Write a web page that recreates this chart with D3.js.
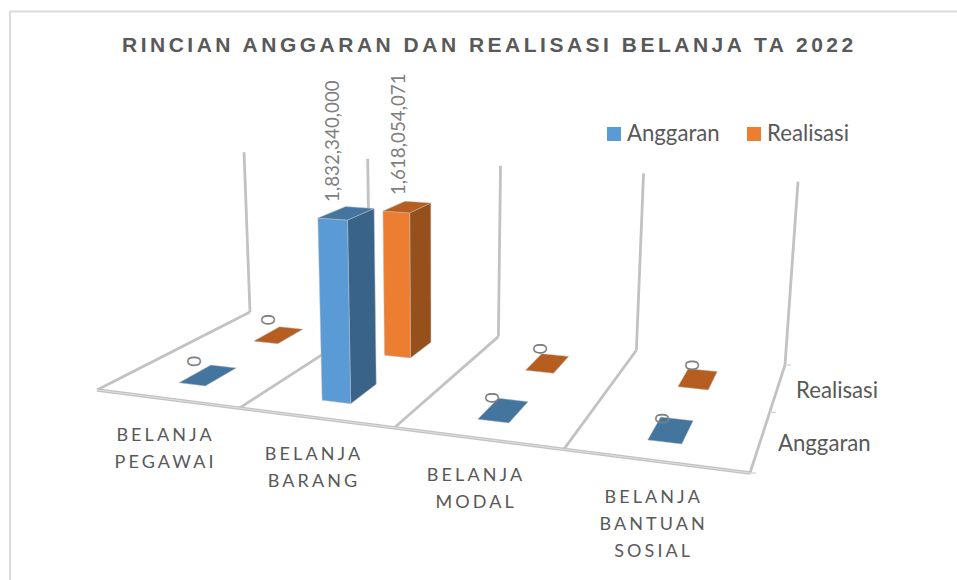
<!DOCTYPE html>
<html>
<head>
<meta charset="utf-8">
<script src="https://cdn.jsdelivr.net/npm/d3@7"></script>
<style>
html,body{margin:0;padding:0;background:#fff;overflow:hidden}
</style>
</head>
<body>
<svg id="chart" width="957" height="580"></svg>
<script>
//data
const chartTitle = "RINCIAN ANGGARAN DAN REALISASI BELANJA TA 2022"
const categories = ["BELANJA PEGAWAI", "BELANJA BARANG", "BELANJA MODAL", "BELANJA BANTUAN SOSIAL"]
const seriesNames = ["Anggaran", "Realisasi"]
const anggaran = [0, 1832340000, 0, 0]
const realisasi = [0, 1618054071, 0, 0]
const seriesValues = [anggaran, realisasi]
const axisMax = 2000000000

//colours: front, side, top of each series
const colors = [
    { front: "#5b9bd5", side: "#3a6389", top: "#44759f" },
    { front: "#ed7d31", side: "#96501c", top: "#b65e20" }
]
const gridColor = "#c2c2c2"
const textColor = "#595959"
const labelColor = "#7f7f7f"

let svg = d3.select("#chart")
const W = 957, H = 580

//floor corners on screen: front-left, front-right, back-right, back-left
const floor = [[97, 390], [750, 473], [785, 365], [250, 312]]
//point where the vertical edges of the 3D box meet
const vanish = [436, 5291]

//unit square -> floor quad (perspective)
let dx1 = floor[1][0] - floor[2][0], dx2 = floor[3][0] - floor[2][0], sx = floor[0][0] - floor[1][0] + floor[2][0] - floor[3][0]
let dy1 = floor[1][1] - floor[2][1], dy2 = floor[3][1] - floor[2][1], sy = floor[0][1] - floor[1][1] + floor[2][1] - floor[3][1]
let den = dx1 * dy2 - dx2 * dy1
let g = (sx * dy2 - dx2 * sy) / den
let h = (dx1 * sy - sx * dy1) / den
let a = floor[1][0] - floor[0][0] + g * floor[1][0]
let b = floor[3][0] - floor[0][0] + h * floor[3][0]
let c = floor[0][0]
let d = floor[1][1] - floor[0][1] + g * floor[1][1]
let e = floor[3][1] - floor[0][1] + h * floor[3][1]
let f = floor[0][1]

let uScale = d3.scaleLinear().domain([0, categories.length]).range([0, 1])
let vScale = d3.scaleLinear().domain([0, seriesNames.length]).range([0, 1])
let hScale = d3.scaleLinear().domain([0, axisMax]).range([0, -0.0383])

//category position, series position, value -> screen
function project(cat, ser, val) {
    let u = uScale(cat), v = vScale(ser), t = hScale(val)
    let w = g * u + h * v + 1 + t
    return [(a * u + b * v + c + t * vanish[0]) / w, (d * u + e * v + f + t * vanish[1]) / w]
}

let lineGen = d3.line()
function quad(pts) { return lineGen(pts) + "Z" }

//frame
svg.append("rect").attr("x", 10).attr("y", 11.5).attr("width", W + 20).attr("height", H + 20)
    .attr("fill", "#fff").attr("stroke", "#dcdcdc").attr("stroke-width", 2)

//title
svg.append("text").attr("x", 122).attr("y", 52)
    .attr("font-family", "Liberation Sans").attr("font-weight", "bold").attr("font-size", 21)
    .attr("letter-spacing", 3.5).attr("fill", textColor).text(chartTitle)

//back wall uprights
let walls = svg.append("g").attr("fill", "none").attr("stroke", gridColor).attr("stroke-width", 2.8)
d3.range(categories.length + 1).forEach(function (i) {
    walls.append("path").attr("d", lineGen([project(i, seriesNames.length, 0), project(i, seriesNames.length, axisMax)]))
})
//floor lines
d3.range(categories.length + 1).forEach(function (i) {
    walls.append("path").attr("d", lineGen([project(i, 0, 0), project(i, seriesNames.length, 0)]))
})
walls.append("path").attr("d", lineGen([project(0, 0, 0), project(categories.length, 0, 0)])).attr("stroke-width", 3.4)
walls.append("path").attr("d", lineGen([project(0, 0, 0), project(categories.length, 0, 0)])).attr("stroke", "#ececec").attr("stroke-width", 0.7)

//depth ticks
d3.range(seriesNames.length + 1).forEach(function (i) {
    let p = project(categories.length, i, 0)
    svg.append("line").attr("x1", p[0]).attr("y1", p[1]).attr("x2", p[0] + 6).attr("y2", p[1])
        .attr("stroke", "#d0d0d0").attr("stroke-width", 1.2)
})

//bars, back row first
const barHalfU = 0.095, barHalfV = 0.2
let bars = svg.append("g")
d3.range(seriesNames.length - 1, -1, -1).forEach(function (s) {
    categories.forEach(function (name, i) {
        let val = seriesValues[s][i]
        let u0 = i + 0.5 - barHalfU, u1 = i + 0.5 + barHalfU
        let v0 = s + 0.5 - barHalfV, v1 = s + 0.5 + barHalfV
        let col = colors[s]
        let edgeColor = "#bdbdbd", edgeWidth = 0.5
        if (val > 0) {
            bars.append("path").attr("d", quad([project(u1, v0, 0), project(u1, v1, 0), project(u1, v1, val), project(u1, v0, val)]))
                .attr("fill", col.side).attr("stroke", edgeColor).attr("stroke-width", edgeWidth)
            bars.append("path").attr("d", quad([project(u0, v0, 0), project(u1, v0, 0), project(u1, v0, val), project(u0, v0, val)]))
                .attr("fill", col.front).attr("stroke", edgeColor).attr("stroke-width", edgeWidth)
        }
        bars.append("path").attr("d", quad([project(u0, v0, val), project(u1, v0, val), project(u1, v1, val), project(u0, v1, val)]))
            .attr("fill", col.top).attr("stroke", edgeColor).attr("stroke-width", edgeWidth)

        //value label, turned 90 degrees
        let p = project(u0, v0, val)
        svg.append("text")
            .attr("transform", "translate(" + (p[0] + 14) + "," + (p[1] - 16) + ") rotate(-90)")
            .attr("dominant-baseline", "central")
            .attr("font-family", "Lato").attr("font-size", 18.8)
            .attr("fill", labelColor).text(d3.format(",")(val))
    })
})

//category labels
categories.forEach(function (name, i) {
    let p = project(i + 0.5, 0, 0)
    let lines = name.split(" ")
    lines.forEach(function (line, j) {
        svg.append("text").attr("x", p[0] - 1).attr("y", p[1] + 42.5 + j * 27)
            .attr("text-anchor", "middle").attr("font-family", "Lato").attr("font-size", 18)
            .attr("letter-spacing", 3.1).attr("fill", textColor).text(line)
    })
})

//depth labels
let depthLabelX = [778, 796], depthLabelY = [451, 398]
seriesNames.forEach(function (name, s) {
    svg.append("text").attr("x", depthLabelX[s]).attr("y", depthLabelY[s])
        .attr("font-family", "Lato").attr("font-size", 22.2).attr("fill", textColor).text(name)
})

//legend
let legendX = [607, 747]
seriesNames.forEach(function (name, s) {
    svg.append("rect").attr("x", legendX[s]).attr("y", 127).attr("width", 14).attr("height", 14).attr("fill", colors[s].front)
    svg.append("text").attr("x", legendX[s] + 20).attr("y", 141)
        .attr("font-family", "Lato").attr("font-size", 22.2).attr("fill", textColor).text(name)
})
</script>
</body>
</html>
